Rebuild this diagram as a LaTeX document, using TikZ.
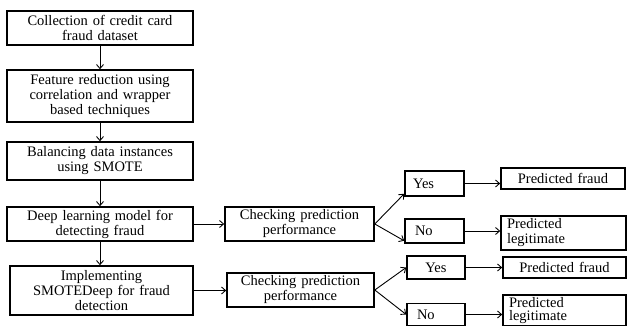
\documentclass[tikz,border=0pt]{standalone}
\usepackage{fontspec}
\setmainfont{Liberation Serif}
\usetikzlibrary{arrows.meta}
\tikzset{
	blk/.style={draw, line width=1.6pt, inner sep=0pt, align=center,
		font=\fontsize{14.5}{15}\selectfont},
	lblk/.style={blk, align=left},
	lnk/.style={->, line width=0.9pt},
}

\begin{document}
\begin{tikzpicture}[x=1pt,y=-1pt,>={Straight Barb[length=4pt,width=7pt]}]
		\useasboundingbox (0,0) rectangle (627,326);
		\clip (0,0) rectangle (627,326);
		% main column
		\node[blk, minimum width=186pt, minimum height=34pt, text width=176pt] (coll) at (100,28) {Collection of credit card\\fraud dataset};
		\node[blk, minimum width=186pt, minimum height=52pt, text width=176pt] (feat) at (100,96) {Feature reduction using\\correlation and wrapper\\based techniques};
		\node[blk, minimum width=186pt, minimum height=38pt, text width=176pt] (bal) at (100,161) {Balancing data instances\\using SMOTE};
		\node[blk, minimum width=186pt, minimum height=34pt, text width=176pt] (deep) at (100,224) {Deep learning model for\\detecting fraud};
		\node[blk, minimum width=183pt, minimum height=49pt, text width=173pt] (smd) at (101.5,290.5) {Implementing\\SMOTEDeep for fraud\\detection};
		% checking boxes
		\node[blk, minimum width=149pt, minimum height=34pt, text width=140pt] (chk1) at (299.5,224) {Checking prediction\\performance};
		\node[blk, minimum width=147pt, minimum height=34pt, text width=140pt] (chk2) at (300.5,290) {Checking prediction\\performance};
		% yes / no
		\node[lblk, minimum width=59pt, minimum height=25pt, text width=43pt] (yes1) at (434.5,183.5) {Yes};
		\node[lblk, minimum width=59pt, minimum height=24pt, text width=39pt] (no1) at (434.5,231) {No};
		\node[blk, minimum width=58pt, minimum height=23pt, text width=42pt] (yes2) at (436,267.5) {Yes};
		\node[lblk, minimum width=58pt, minimum height=22pt, text width=38pt] (no2) at (436,314.5) {No};
		% outcomes
		\node[blk, minimum width=124pt, minimum height=21pt, text width=112pt] (pf1) at (563,178.5) {Predicted fraud};
		\node[lblk, minimum width=125pt, minimum height=34pt, text width=113pt] (pl1) at (563.5,233) {Predicted\\legitimate};
		\node[blk, minimum width=123pt, minimum height=21pt, text width=112pt] (pf2) at (564.5,267.5) {Predicted fraud};
		\node[lblk, minimum width=123pt, minimum height=31pt, text width=111pt, font=\fontsize{14.5}{13}\selectfont] (pl2) at (564.5,310.5) {Predicted\\legitimate};

		\draw[lnk] (coll) -- (feat);
		\draw[lnk] (feat) -- (bal);
		\draw[lnk] (bal) -- (deep);
		\draw[lnk] (deep.south) -- (deep.south |- smd.north);
		\draw[lnk] (deep) -- (chk1);
		\draw[lnk] (smd.east) -- (smd.east -| chk2.west);
		\draw[lnk] (chk1.east) -- ([yshift=3pt]yes1.south west);
		\draw[lnk] (chk1.east) -- ([yshift=3pt]no1.south west);
		\draw[lnk] (chk2.east) -- (yes2.west);
		\draw[lnk] (chk2.east) -- (no2.west);
		\draw[lnk] (yes1.east) -- (yes1.east -| pf1.west);
		\draw[lnk] (no1.east) -- (no1.east -| pl1.west);
		\draw[lnk] (yes2.east) -- (yes2.east -| pf2.west);
		\draw[lnk] (no2.east) -- (no2.east -| pl2.west);
\end{tikzpicture}
\end{document}
